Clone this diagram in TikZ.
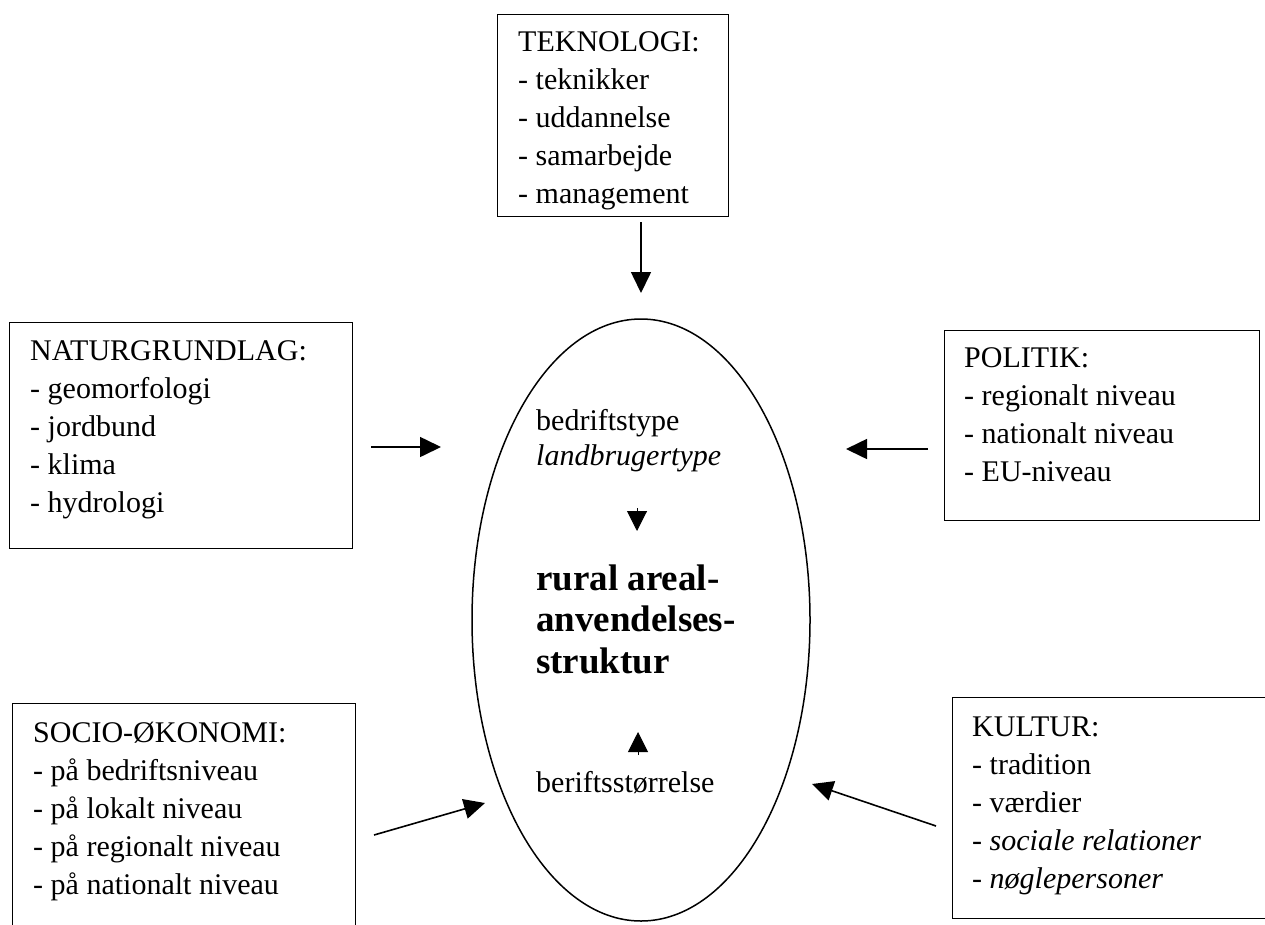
\documentclass[tikz,border=0pt]{standalone}
\usepackage{fontspec}
\setmainfont{Liberation Serif}
\usetikzlibrary{arrows.meta,shapes.geometric}
\newcommand{\firstln}{\rule{0pt}{22pt}}
\begin{document}
\begin{tikzpicture}[x=1pt,y=-1pt,
  box/.style={draw, line width=1.3pt, anchor=north west, inner sep=0pt},
  txt/.style={anchor=north west, align=left, inner sep=0pt, font=\fontsize{30}{38}\selectfont},
  mid/.style={anchor=base west, inner sep=0pt, font=\fontsize{30}{38}\selectfont},
  core/.style={anchor=north west, align=left, inner sep=0pt, font=\fontsize{37}{41.5}\selectfont\bfseries},
  arr/.style={line width=1.6pt, -{Triangle[length=21pt,width=20pt]}},
  tri/.style={line width=1pt, -{Triangle[length=20pt,width=20pt]}},
]
\clip (0,0) rectangle (1265,924);
\fill[white] (0,0) rectangle (1265,924);

% boxes
\node[box, minimum width=231pt, minimum height=202pt] (tek) at (497,14) {};
\node[box, minimum width=343pt, minimum height=226pt] (nat) at (9,322) {};
\node[box, minimum width=315pt, minimum height=190pt] (pol) at (944,330) {};
\node[box, minimum width=343pt, minimum height=240pt] (soc) at (12,703) {};
\node[box, minimum width=330pt, minimum height=221pt] (kul) at (952,697) {};

% box texts (north = first baseline - 22)
\node[txt] (tekt) at (518,29) {\firstln TEKNOLOGI:\\- teknikker\\- uddannelse\\- samarbejde\\- management};
\node[txt] (natt) at (30,338) {\firstln NATURGRUNDLAG:\\- geomorfologi\\- jordbund\\- klima\\- hydrologi};
\node[txt] (polt) at (964,345) {\firstln POLITIK:\\- regionalt niveau\\- nationalt niveau\\- EU-niveau};
\node[txt] (soct) at (33,720) {\firstln SOCIO-ØKONOMI:\\- på bedriftsniveau\\- på lokalt niveau\\- på regionalt niveau\\- på nationalt niveau};
\node[txt] (kult) at (972,714) {\firstln KULTUR:\\- tradition\\- værdier\\- \textit{sociale relationer}\\- \textit{nøglepersoner}};

% ellipse
\node[draw, ellipse, line width=1.5pt, minimum width=338pt, minimum height=602pt, inner sep=0pt] (ell) at (641,620) {};

% inner texts
\node[mid] (bt) at (536,430) {bedriftstype};
\node[mid] (lt) at (536,465) {\textit{landbrugertype}};
\node[core] (cr) at (536,564) {\rule{0pt}{26pt}rural areal-\\anvendelses-\\struktur};
\node[mid] (bs) at (536,792) {beriftsstørrelse};

% small triangles
\coordinate (t1s) at (637,508);
\coordinate (t1e) at (637,531);
\draw[tri] (t1s) -- (t1e);
\coordinate (t2s) at (638,755);
\coordinate (t2e) at (638,732);
\draw[tri] (t2s) -- (t2e);

% arrows
\coordinate (a1s) at (641,222);
\coordinate (a1e) at (641,293);
\draw[arr] (a1s) -- (a1e);
\coordinate (a2s) at (371,447);
\coordinate (a2e) at (441,447);
\draw[arr] (a2s) -- (a2e);
\coordinate (a3s) at (928,449);
\coordinate (a3e) at (846,449);
\draw[arr] (a3s) -- (a3e);
\coordinate (a4s) at (374,835);
\coordinate (a4e) at (485,803);
\draw[arr] (a4s) -- (a4e);
\coordinate (a5s) at (936,826);
\coordinate (a5e) at (812,784);
\draw[arr] (a5s) -- (a5e);
\end{tikzpicture}
\end{document}
